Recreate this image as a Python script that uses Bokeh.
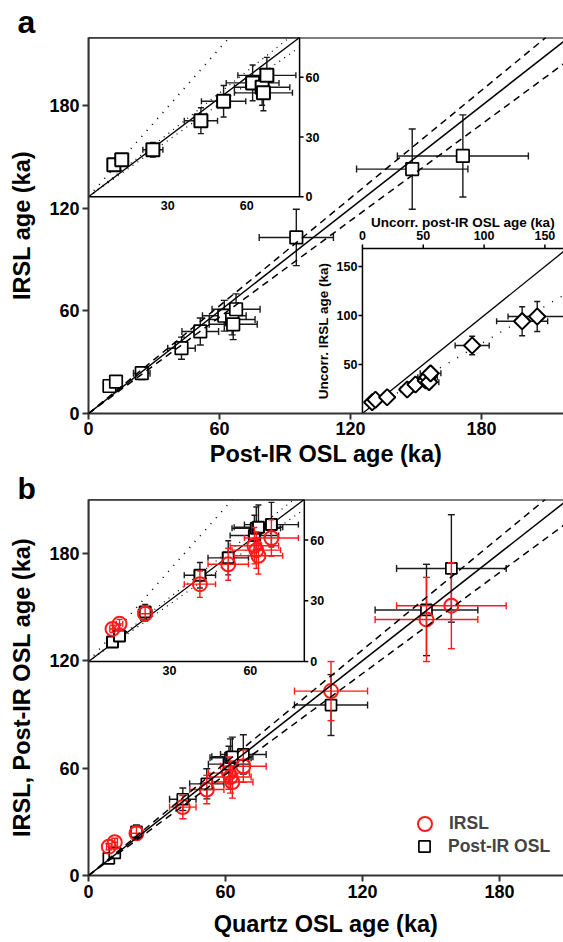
import math
from bokeh.plotting import figure
from bokeh.models import (Range1d, Slope, Span, Legend, LegendItem,
                          FixedTicker, ColumnDataSource)
from bokeh.layouts import column
from bokeh.core.properties import value
from bokeh.embed import file_html
from bokeh.resources import INLINE

FONT = "Liberation Sans"
RED = "#ff1a1a"
BLK = "#1a1a1a"

# ---------------- data (ka) ----------------
quartz     = [8.9, 11.5, 21.0, 41.3, 51.8, 61.5, 62.2, 63.0, 67.8, 106.2, 148.0, 158.9]
quartz_err = [1.0, 1.2, 2.5, 5.8, 7.5, 9.0, 9.0, 9.0, 10.0, 16.0, 22.5, 24.0]
pirosl     = [9.6, 12.6, 24.4, 42.6, 51.2, 62.2, 65.8, 66.3, 67.6, 95.2, 148.3, 171.5]
pirosl_err = [1.3, 1.6, 3.8, 6.3, 8.4, 10.0, 10.5, 11.0, 11.0, 17.0, 25.5, 30.0]
irsl       = [16.1, 18.6, 23.6, 38.2, 48.0, 57.2, 55.0, 52.2, 61.0, 103.0, 143.0, 150.7]
irsl_err   = [1.8, 2.2, 3.7, 6.5, 7.9, 9.0, 9.0, 9.0, 9.0, 16.5, 23.5, 24.0]

uncorr_pir      = [8.0, 10.7, 20.3, 36.8, 43.6, 52.0, 53.5, 54.8, 56.0, 90.2, 131.3, 143.7]
uncorr_pir_err  = [1.2, 1.5, 3.0, 5.5, 6.5, 7.5, 8.0, 8.0, 8.5, 14.0, 21.0, 24.0]
uncorr_irsl     = [11.5, 14.0, 16.6, 24.5, 29.6, 33.7, 37.0, 32.0, 41.0, 69.4, 94.2, 99.0]
uncorr_irsl_err = [1.3, 1.6, 2.4, 3.8, 4.6, 5.2, 5.6, 5.0, 6.0, 9.4, 14.8, 15.3]

main_ticks = [0, 60, 120, 180]
inset_yticks = [0, 30, 60]
inset_xticks = [30, 60]
uncorr_xticks = [0, 50, 100, 150]
uncorr_yticks = [50, 100, 150]

ratio_line = 1.0
ratio_band = [1.05, 0.94]
inset_steep = 1.5
uncorr_fit = 0.73

# ---------------- helpers ----------------
def style_axes(p, xlabel, ylabel, label_standoff_x, tick_standoff_x):
    p.xaxis.axis_label = xlabel
    p.yaxis.axis_label = ylabel
    for ax in (p.xaxis[0], p.yaxis[0]):
        ax.ticker = FixedTicker(ticks=main_ticks)
        ax.axis_line_width = 2
        ax.axis_line_color = "#333333"
        ax.major_tick_line_width = 2
        ax.major_tick_line_color = "#333333"
        ax.major_tick_out = 6
        ax.major_tick_in = 0
        ax.minor_tick_line_color = None
        ax.major_label_standoff = 3
        ax.major_label_text_font = FONT
        ax.major_label_text_font_style = "bold"
        ax.major_label_text_font_size = "18px"
        ax.major_label_text_color = "black"
        ax.axis_label_text_font = FONT
        ax.axis_label_text_font_style = "bold"
        ax.axis_label_text_font_size = "23.5px"
        ax.axis_label_text_color = "black"
    p.xaxis.axis_label_standoff = label_standoff_x
    p.xaxis.major_label_standoff = tick_standoff_x
    p.yaxis.axis_label_standoff = 11
    p.xgrid.visible = False
    p.ygrid.visible = False
    p.outline_line_color = None
    p.add_layout(Span(location=p.y_range.end, dimension="width",
                      line_color="black", line_width=2))


def panel_title(p, letter, size, standoff, valign):
    p.title.text = letter
    p.title.align = "left"
    p.title.offset = -71
    p.title.standoff = standoff
    p.title.vertical_align = valign
    p.title.text_font = FONT
    p.title.text_font_style = "bold"
    p.title.text_font_size = size
    p.title.text_color = "black"


def errorbars(api, x, y, xerr, yerr, color, lw=1.4, cap=7):
    src = ColumnDataSource(dict(
        x=x, y=y,
        xl=[a - b for a, b in zip(x, xerr)], xh=[a + b for a, b in zip(x, xerr)],
        yl=[a - b for a, b in zip(y, yerr)], yh=[a + b for a, b in zip(y, yerr)]))
    api.segment(x0="xl", y0="y", x1="xh", y1="y", source=src, line_color=color, line_width=lw)
    api.segment(x0="x", y0="yl", x1="x", y1="yh", source=src, line_color=color, line_width=lw)
    for cx in ("xl", "xh"):
        api.scatter(x=cx, y="y", source=src, marker="dash", angle=math.pi / 2,
                    size=cap, line_color=color, line_width=lw)
    for cy in ("yl", "yh"):
        api.scatter(x="x", y=cy, source=src, marker="dash", size=cap,
                    line_color=color, line_width=lw)


def ratio_lines(api, xmax, ymax, dash_band="1 5"):
    for k, dash, w in ([(ratio_line, "solid", 1.3)] +
                       [(b, dash_band, 1.2) for b in ratio_band]):
        xe = min(xmax, ymax / k)
        api.line(x=[0, xe], y=[0, k * xe], line_color="black", line_width=w, line_dash=dash)


def txt(api, x, y, t, size, align, baseline, xo=0, yo=0, angle=0.0):
    api.text(x=x, y=y, text=t, text_font=value(FONT), text_font_style="bold",
             text_font_size=size, text_align=align, text_baseline=baseline,
             x_offset=xo, y_offset=yo, angle=angle, text_color="black")


def inset_axes_80(api, top):
    api.quad(left=[0], right=[top], bottom=[0], top=[top],
             fill_color="white", line_color="black", line_width=1.5)
    api.ray(x=[top] * len(inset_yticks), y=inset_yticks, length=4,
            length_units="screen", angle=0, line_color="black", line_width=1.5)
    txt(api, [top] * len(inset_yticks), inset_yticks, [str(t) for t in inset_yticks],
        "12.5px", "left", "middle", xo=6)
    txt(api, inset_xticks, [0] * len(inset_xticks), [str(t) for t in inset_xticks],
        "12.5px", "center", "top", yo=4)


# ================= panel a =================
pa = figure(width=563, height=471, x_range=Range1d(0, 217.6), y_range=Range1d(0, 220),
            output_backend="svg", toolbar_location=None,
            min_border_left=88, min_border_right=0, min_border_top=37, min_border_bottom=58)
style_axes(pa, "Post-IR OSL age (ka)", "IRSL age (ka)", 3, 2)
panel_title(pa, "a", "32px", -4, "bottom")
pa.add_layout(Slope(gradient=ratio_line, y_intercept=0, line_color="black", line_width=1.5))
for b in ratio_band:
    pa.add_layout(Slope(gradient=b, y_intercept=0, line_color="black",
                        line_width=1.5, line_dash="7 5"))

errorbars(pa, pirosl, irsl, pirosl_err, irsl_err, BLK)
pa.scatter(pirosl, irsl, marker="square", size=12.5, fill_color="white",
           line_color="black", line_width=1.7)

A = 80
n = 9
a1 = pa.subplot(x_source=Range1d(0, A), y_source=Range1d(0, A),
                x_target=Range1d(0, 96.7), y_target=Range1d(126.8, 220))
inset_axes_80(a1, A)
ratio_lines(a1, A, A)
a1.line(x=[0, A / inset_steep], y=[0, A], line_color="black", line_width=1.6, line_dash="1 7")
errorbars(a1, pirosl[:n], irsl[:n], pirosl_err[:n], irsl_err[:n], BLK, lw=1.4, cap=6)
a1.scatter(pirosl[:n], irsl[:n], marker="square", size=13, fill_color="white",
           line_color="black", line_width=2)

UX, UY = 165.3, 168.5
a2 = pa.subplot(x_source=Range1d(0, UX), y_source=Range1d(0, UY),
                x_target=Range1d(125.5, 217.6), y_target=Range1d(0, 96.6))
a2.quad(left=[0], right=[UX], bottom=[0], top=[UY], fill_color="white", line_color=None)
a2.line(x=[0, 0, UX], y=[0, UY, UY], line_color="black", line_width=1.5)
a2.line(x=[0, UX], y=[0, UX], line_color="black", line_width=1.3)
a2.line(x=[0, UX], y=[0, uncorr_fit * UX], line_color="black", line_width=1.5, line_dash="1 9")
errorbars(a2, uncorr_pir, uncorr_irsl, uncorr_pir_err, uncorr_irsl_err, BLK, lw=1.4, cap=6)
a2.scatter(uncorr_pir, uncorr_irsl, marker="square", angle=math.pi / 4, size=11.5,
           fill_color="white", line_color="black", line_width=2)
a2.ray(x=uncorr_xticks, y=[UY] * len(uncorr_xticks), length=4, length_units="screen",
       angle=math.pi / 2, line_color="black", line_width=1.5)
txt(a2, uncorr_xticks, [UY] * len(uncorr_xticks), [str(t) for t in uncorr_xticks],
    "12.5px", "center", "middle", yo=-13)
txt(a2, [UX / 2], [UY], ["Uncorr. post-IR OSL age (ka)"], "13.5px", "center", "middle", yo=-26)
a2.ray(x=[0] * len(uncorr_yticks), y=uncorr_yticks, length=4, length_units="screen",
       angle=math.pi, line_color="black", line_width=1.5)
txt(a2, [0] * len(uncorr_yticks), uncorr_yticks, [str(t) for t in uncorr_yticks],
    "12.5px", "right", "middle", xo=-5)
txt(a2, [0], [UY / 2], ["Uncorr. IRSL age (ka)"], "13.5px", "center", "middle",
    xo=-39, angle=math.pi / 2)

# ================= panel b =================
pb = figure(width=563, height=471, x_range=Range1d(0, 208), y_range=Range1d(0, 210),
            output_backend="svg", toolbar_location=None,
            min_border_left=88, min_border_right=0, min_border_top=28, min_border_bottom=67)
style_axes(pb, "Quartz OSL age (ka)", "IRSL, Post-IR OSL age (ka)", 10, 3)
panel_title(pb, "b", "30px", -14, "top")
pb.add_layout(Slope(gradient=ratio_line, y_intercept=0, line_color="black", line_width=1.5))
for b in ratio_band:
    pb.add_layout(Slope(gradient=b, y_intercept=0, line_color="black",
                        line_width=1.5, line_dash="7 5"))

errorbars(pb, quartz, pirosl, quartz_err, pirosl_err, BLK)
r_pir = pb.scatter(quartz, pirosl, marker="square", size=11, fill_color="white",
                   line_color="black", line_width=1.7)
errorbars(pb, quartz, irsl, quartz_err, irsl_err, RED)
r_irsl = pb.scatter(quartz, irsl, marker="circle", size=14, fill_color=None,
                    line_color=RED, line_width=2)

b1 = pb.subplot(x_source=Range1d(0, A), y_source=Range1d(0, A),
                x_target=Range1d(0, 94.5), y_target=Range1d(119.5, 210))
inset_axes_80(b1, A)
ratio_lines(b1, A, A)
b1.line(x=[0, A / inset_steep], y=[0, A], line_color="black", line_width=1.6, line_dash="1 7")
errorbars(b1, quartz[:n], pirosl[:n], quartz_err[:n], pirosl_err[:n], BLK, lw=1.4, cap=6)
b1.scatter(quartz[:n], pirosl[:n], marker="square", size=11, fill_color="white",
           line_color="black", line_width=2)
errorbars(b1, quartz[:n], irsl[:n], quartz_err[:n], irsl_err[:n], RED, lw=1.4, cap=6)
b1.scatter(quartz[:n], irsl[:n], marker="circle", size=14, fill_color=None,
           line_color=RED, line_width=2)

common = dict(orientation="vertical", padding=0, margin=0,
              label_text_font=FONT, label_text_font_style="bold",
              label_text_font_size="17.5px", border_line_color=None,
              background_fill_alpha=0)
leg1 = Legend(items=[LegendItem(label="IRSL", renderers=[r_irsl])],
              location=(319, 34), glyph_width=35, glyph_height=35,
              label_standoff=7, **common)
leg2 = Legend(items=[LegendItem(label="Post-IR OSL", renderers=[r_pir])],
              location=(322, 15), glyph_width=28, glyph_height=28,
              label_standoff=10, **common)
pb.add_layout(leg1)
pb.add_layout(leg2)

layout = column(pa, pb, spacing=0)
open("out.html", "w").write(file_html(layout, INLINE))
